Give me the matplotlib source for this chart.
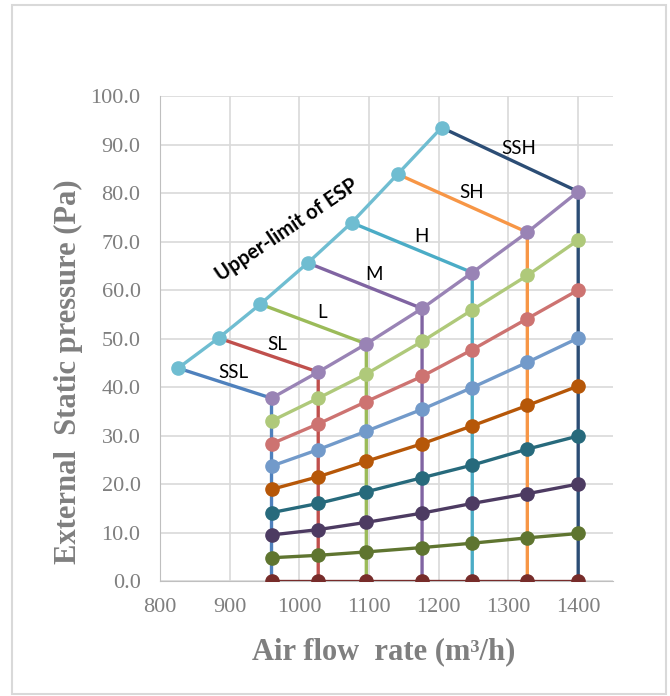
import numpy as np
import matplotlib.pyplot as plt
from matplotlib.patches import Rectangle

# fan speeds and the air flow where each speed meets the pressure curves
speeds = ['SSL', 'SL', 'L', 'M', 'H', 'SH', 'SSH']
col_x = [960, 1027, 1096, 1176, 1248, 1327, 1400]

# upper limit of ESP (one point per speed)
upper_x = [826, 884, 944, 1012, 1075, 1141, 1204]
upper_y = [43.9, 50.1, 57.1, 65.6, 73.9, 83.9, 93.5]

# pressure curves through the columns, bottom to top
curves = [
    [0, 0, 0, 0, 0, 0, 0],
    [4.8, 5.3, 6.0, 6.9, 7.8, 8.9, 9.8],
    [9.5, 10.6, 12.1, 14.0, 16.0, 18.0, 20.0],
    [14.1, 16.0, 18.4, 21.3, 23.9, 27.2, 29.9],
    [18.9, 21.5, 24.7, 28.3, 32.0, 36.2, 40.2],
    [23.7, 27.1, 30.9, 35.4, 39.9, 45.1, 50.1],
    [28.3, 32.4, 37.0, 42.2, 47.7, 54.1, 60.0],
    [33.0, 37.7, 42.7, 49.4, 55.9, 63.0, 70.3],
    [37.7, 43.1, 48.9, 56.2, 63.6, 71.9, 80.3],
]

speed_colors = ['#4F81BD', '#C0504D', '#9BBB59', '#8064A2', '#4BACC6', '#F79646', '#2C4D75']
curve_colors = ['#772C2A', '#5F7530', '#4D3B62', '#276A7C', '#B65708',
                '#729ACA', '#CD7371', '#AFC97A', '#9983B5']
upper_color = '#6FBDD1'

fig = plt.figure(figsize=(6.7, 6.96), dpi=100)
ax = fig.add_axes([0.2388, 0.1652, 0.6762, 0.6968])

# outer frame
fig.patches.append(Rectangle((12 / 670, 2 / 696), 654 / 670, 689 / 696, transform=fig.transFigure,
                             fill=False, edgecolor='#D9D9D9', linewidth=1.5))

top = curves[-1]
# speed lines: upper limit -> top curve -> zero
for i, name in enumerate(speeds):
    ax.plot([upper_x[i], col_x[i], col_x[i]], [upper_y[i], top[i], 0],
            color=speed_colors[i], lw=2.4, zorder=2)

for vals, c in zip(curves, curve_colors):
    ax.plot(col_x, vals, color=c, lw=2.4, marker='o', ms=9.5, zorder=3)

ax.plot(upper_x, upper_y, color=upper_color, lw=2.4, marker='o', ms=9.5, zorder=3)

# speed labels near the middle of each sloped segment
for i, name in enumerate(speeds):
    mx = (upper_x[i] + col_x[i]) / 2
    my = (upper_y[i] + top[i]) / 2
    ax.annotate(name, (mx, my), xytext=(9, 11), textcoords='offset pixels',
                ha='center', va='center', fontsize=13.5, family='Lato', color='black')

ax.text(982, 72.3, 'Upper-limit of ESP', rotation=34, ha='center', va='center',
        rotation_mode='anchor', fontsize=14.5, fontweight='bold', family='Lato')

ax.set_xlim(800, 1450)
ax.set_ylim(0, 100)
ax.set_xticks(np.arange(800, 1401, 100))
ax.set_yticks(np.arange(0, 101, 10))
ax.set_yticklabels([f'{v:.1f}' for v in np.arange(0, 101, 10)])
ax.grid(True, color='#D9D9D9', lw=1.2)
ax.set_axisbelow(True)
for s in ['top', 'right']:
    ax.spines[s].set_visible(False)
ax.spines['left'].set_color('#BFBFBF')
ax.spines['bottom'].set_color('#BFBFBF')
ax.tick_params(length=0, colors='#7F7F7F', labelsize=16)
ax.tick_params(axis='y', pad=14)
ax.tick_params(axis='x', pad=12)
for lbl in ax.get_xticklabels() + ax.get_yticklabels():
    lbl.set_family('Liberation Serif')

ax.set_xlabel('Air flow  rate (m³/h)', fontsize=22, fontweight='bold',
              family='Liberation Serif', color='#7F7F7F')
ax.set_ylabel('External  Static pressure (Pa)', fontsize=22, fontweight='bold',
              family='Liberation Serif', color='#7F7F7F')
ax.xaxis.set_label_coords((384 - 160) / 453, -(652 - 581) / 485)
ax.yaxis.set_label_coords(-(160 - 68) / 453, (581 - 372) / 485)
ax.xaxis.label.set_va('center')
ax.yaxis.label.set_va('center')

fig.savefig('out.png', dpi=100)
